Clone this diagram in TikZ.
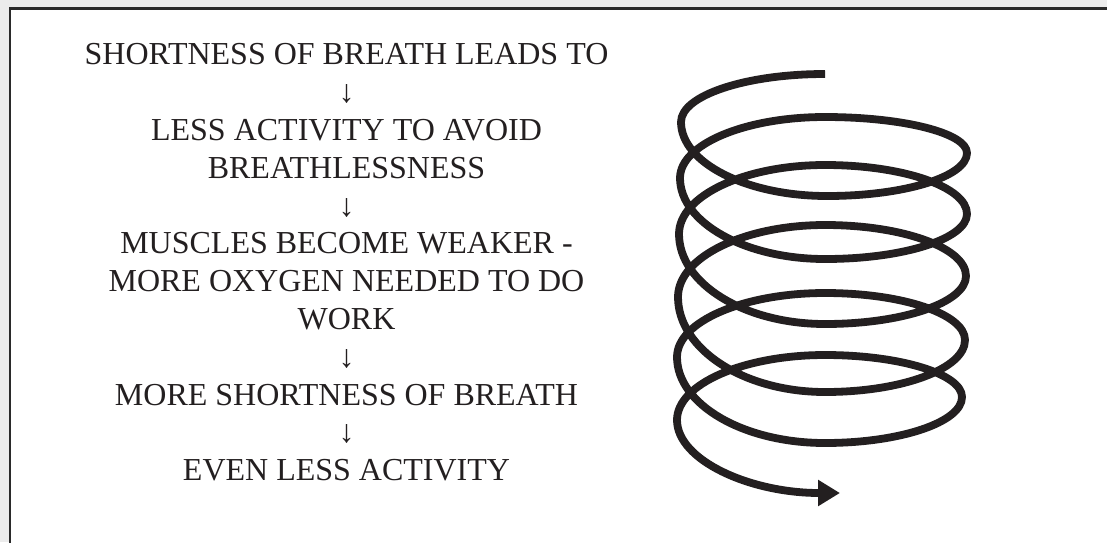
\documentclass[tikz,border=0pt]{standalone}
\usepackage{fontspec}
\setmainfont{Liberation Serif}
\usetikzlibrary{arrows.meta}
\definecolor{ink}{HTML}{231F20}
\definecolor{framec}{HTML}{2A2A2A}
\definecolor{outside}{HTML}{ECECEC}
\tikzset{
  flowtext/.style={align=center, inner sep=0pt, text=ink,
    font=\fontsize{32}{37.8}\selectfont},
  coil/.style={draw=ink, line width=7.8pt, line join=round,
    -{Triangle[length=22pt,width=25pt]}},
  frameline/.style={draw=framec, line width=2.4pt, fill=white}
}
\begin{document}
\begin{tikzpicture}[x=1pt,y=-1pt]
\useasboundingbox (0,0) rectangle (1107,542);
\clip (0,0) rectangle (1107,542);
\fill[outside] (0,0) rectangle (1107,542);
\path[frameline] (10,8.3) rectangle (1130,570);

\node[flowtext, anchor=north] (flow) at (346.5,43.5) {%
SHORTNESS OF BREATH LEADS TO\\
↓\\
LESS ACTIVITY TO AVOID\\
BREATHLESSNESS\\
↓\\
MUSCLES BECOME WEAKER -\\
MORE OXYGEN NEEDED TO DO\\
WORK\\
↓\\
MORE SHORTNESS OF BREATH\\
↓\\
EVEN LESS ACTIVITY};

\coordinate (coilstart) at (825,74);
\coordinate (coilend) at (840,493);
\draw[coil] (coilstart)
  .. controls (745.5,74) and (681,95.5) .. (681,122)
  .. controls (681,162.8) and (746.4,196) .. (827,196)
  .. controls (904.3,196) and (967,176.7) .. (967,153)
  .. controls (967,133.1) and (903.4,117) .. (825,117)
  .. controls (745,117) and (680,144.3) .. (680,178)
  .. controls (680,222.7) and (745,259) .. (825,259)
  .. controls (903.4,259) and (967,238.8) .. (967,214)
  .. controls (967,187) and (903.4,165) .. (825,165)
  .. controls (744.4,165) and (679,195.9) .. (679,234)
  .. controls (679,283.7) and (744.4,324) .. (825,324)
  .. controls (902.8,324) and (966,302.5) .. (966,276)
  .. controls (966,247.8) and (902.8,225) .. (825,225)
  .. controls (743.9,225) and (678,257.3) .. (678,297)
  .. controls (678,349.4) and (743.9,392) .. (825,392)
  .. controls (902.3,392) and (965,368.7) .. (965,340)
  .. controls (965,314) and (902.3,293) .. (825,293)
  .. controls (743.3,293) and (677,321.7) .. (677,357)
  .. controls (677,404.5) and (743.3,443) .. (825,443)
  .. controls (899.6,443) and (962,422.4) .. (962,397)
  .. controls (962,373.8) and (899.6,355) .. (825,355)
  .. controls (743.3,355) and (677,384.1) .. (677,420)
  .. controls (677,460.3) and (750,493) .. (coilend);
\end{tikzpicture}
\end{document}
